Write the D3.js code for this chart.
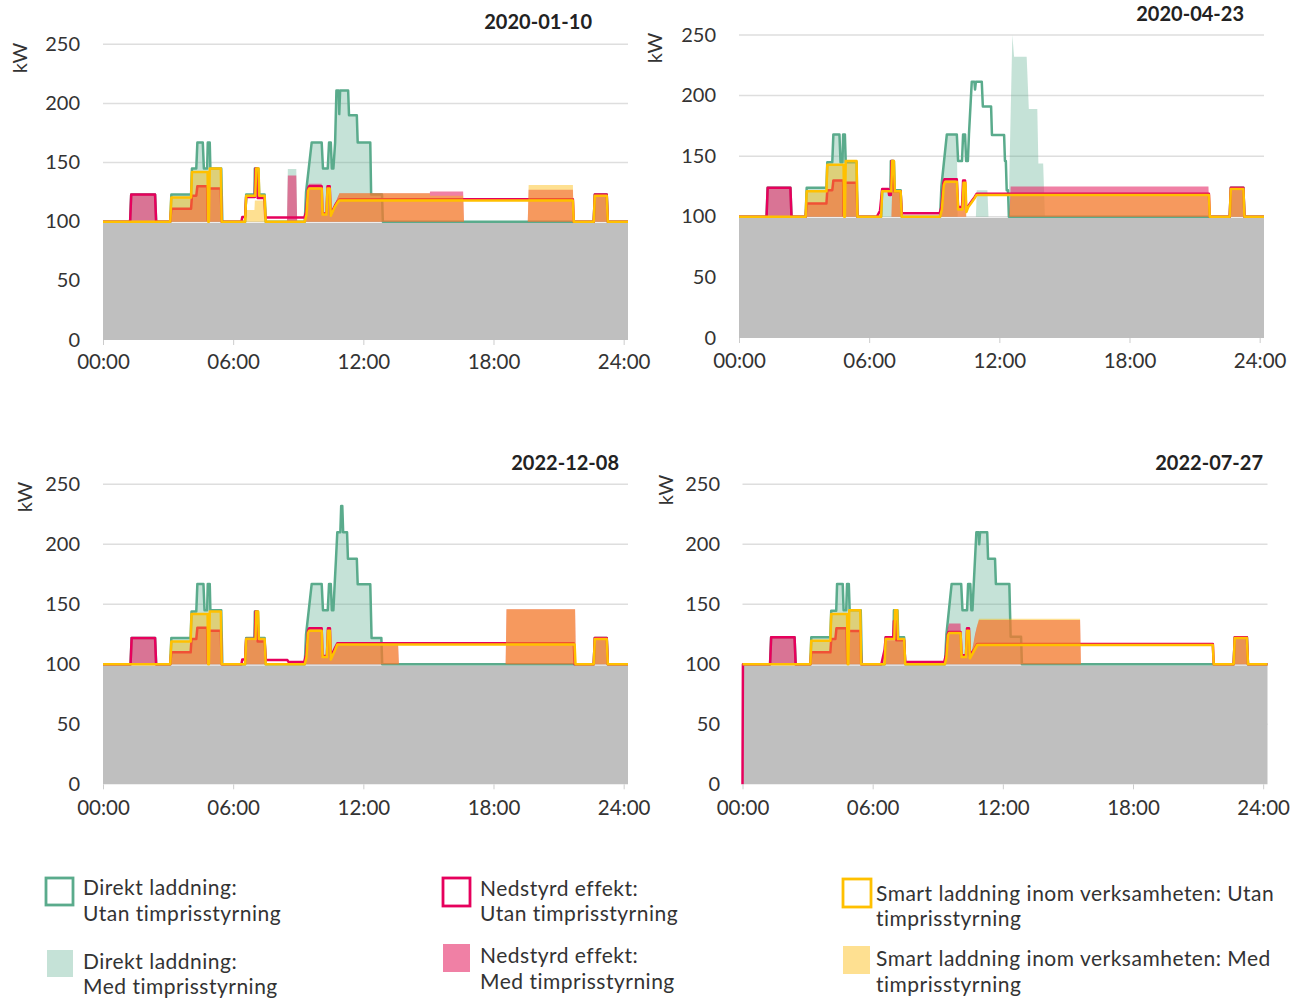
<!DOCTYPE html>
<html><head><meta charset="utf-8">
<script src="https://cdn.jsdelivr.net/npm/d3@7"></script>
<style>
body{margin:0;background:#fff;}
svg{display:block;font-family:Lato,"Noto Sans",sans-serif;}
</style></head><body>
<svg id="chart" width="1314" height="1001"></svg>
<script>
// ---------- data ----------
const titles = ["2020-01-10","2020-04-23","2022-12-08","2022-07-27"];
const yTicks = [0,50,100,150,200,250];
const xTickHours = [0,6,12,18,24];
const xTickLabels = ["00:00","06:00","12:00","18:00","24:00"];
const hourEnd = 24.2;
const baseLoad = 99;
const legendText = [
 ["Direkt laddning:","Utan timprisstyrning"],
 ["Direkt laddning:","Med timprisstyrning"],
 ["Nedstyrd effekt:","Utan timprisstyrning"],
 ["Nedstyrd effekt:","Med timprisstyrning"],
 ["Smart laddning inom verksamheten: Utan","timprisstyrning"],
 ["Smart laddning inom verksamheten: Med","timprisstyrning"]
];

// Panel 1 : 2020-01-10
const p1_dirU = [[0,100],[1.25,100],[1.3,123],[2.4,123],[2.45,100],[3.1,100],[3.15,123],[4.06,123],[4.1,145],[4.3,145],[4.35,167],[4.6,167],[4.65,145],[4.8,145],[4.83,167],[4.92,167],[4.95,145],[5.45,145],[5.5,100],[6.55,100],[6.6,123],[6.98,123],[7.0,145],[7.16,145],[7.2,123],[7.45,123],[7.5,100],[9.3,100],[9.36,125],[9.62,167],[10.08,167],[10.14,145],[10.36,145],[10.42,167],[10.5,167],[10.55,145],[10.62,145],[10.7,167],[10.76,211],[10.86,211],[10.89,191],[10.93,211],[11.3,211],[11.34,190],[11.7,190],[11.74,167],[12.32,167],[12.36,123],[12.86,123],[12.9,100],[22.62,100],[22.67,123],[23.22,123],[23.27,100],[24.2,100]];
const p1_dirM = [[0,100],[1.25,100],[1.3,123],[2.4,123],[2.45,100],[3.1,100],[3.15,123],[4.06,123],[4.1,145],[4.3,145],[4.35,167],[4.6,167],[4.65,145],[4.8,145],[4.83,167],[4.92,167],[4.95,145],[5.45,145],[5.5,100],[8.48,100],[8.52,144.6],[8.91,144.6],[8.95,100],[9.3,100],[9.36,125],[9.62,167],[10.08,167],[10.14,145],[10.36,145],[10.42,167],[10.5,167],[10.55,145],[10.62,145],[10.7,167],[10.76,211],[10.86,211],[10.89,191],[10.93,211],[11.3,211],[11.34,190],[11.7,190],[11.74,167],[12.32,167],[12.36,123],[12.86,123],[12.9,100],[22.62,100],[22.67,123],[23.22,123],[23.27,100],[24.2,100]];
const p1_nedU = [[0,100],[1.25,100],[1.3,123],[2.4,123],[2.45,100],[3.1,100],[3.15,111],[4.06,111],[4.1,122],[4.3,122],[4.35,130],[4.8,130],[4.83,101],[4.86,101],[4.88,128],[5.43,128],[5.47,100],[6.38,100],[6.42,104],[6.55,104],[6.6,121],[7.0,121],[7.03,145],[7.1,145],[7.13,120],[7.44,120],[7.48,103.5],[9.28,103.5],[9.36,108],[9.45,128],[9.5,130],[10.08,130],[10.12,107],[10.3,107],[10.35,130],[10.45,130],[10.5,106],[10.6,110],[10.7,114],[10.8,117],[10.9,119],[21.66,119],[21.7,100],[22.62,100],[22.67,123],[23.22,123],[23.27,100],[24.2,100]];
const p1_nedM = [[0,100],[1.25,100],[1.3,123],[2.4,123],[2.45,100],[3.1,100],[3.15,111],[4.06,111],[4.1,122],[4.3,122],[4.35,130],[4.8,130],[4.83,101],[4.86,101],[4.88,128],[5.43,128],[5.47,100],[8.48,100],[8.52,139],[8.91,139],[8.95,100],[9.3,100],[9.38,108],[9.45,130],[9.5,132],[10.08,132],[10.12,107],[10.3,107],[10.35,130],[10.45,130],[10.5,106],[10.6,110],[10.7,115],[10.8,120],[10.9,124],[15.06,124],[15.08,125.5],[16.6,125.5],[16.64,100],[19.58,100],[19.62,127],[21.66,127],[21.7,100],[22.62,100],[22.67,123],[23.22,123],[23.27,100],[24.2,100]];
const p1_smU = [[0,100],[3.1,100],[3.15,120.5],[4.06,120.5],[4.1,142],[4.82,142],[4.85,100],[4.88,100],[4.92,145],[5.43,145],[5.47,100],[6.55,100],[6.6,122],[7.02,122],[7.06,145],[7.17,145],[7.2,122],[7.45,122],[7.5,100],[9.3,100],[9.38,106],[9.45,126],[9.5,128],[10.08,128],[10.12,106],[10.3,106],[10.35,128],[10.45,128],[10.5,105],[10.6,109],[10.7,113],[10.8,116],[10.9,118],[21.66,118],[21.7,100],[22.62,100],[22.67,122],[23.22,122],[23.27,100],[24.2,100]];
const p1_smM = [[0,100],[3.1,100],[3.15,120.5],[4.06,120.5],[4.1,142],[4.82,142],[4.85,100],[4.88,100],[4.92,145],[5.43,145],[5.47,100],[6.55,100],[6.6,110],[6.98,110],[7.0,118],[7.45,118],[7.5,100],[9.3,100],[9.38,106],[9.45,126],[9.5,128],[10.08,128],[10.12,106],[10.3,106],[10.35,128],[10.45,128],[10.5,105],[10.6,109],[10.7,114],[10.8,119],[10.9,124],[15.06,124],[15.08,122],[16.6,122],[16.64,100],[19.58,100],[19.62,131],[21.66,131],[21.7,100],[22.62,100],[22.67,122],[23.22,122],[23.27,100],[24.2,100]];

// Panel 2 : 2020-04-23
const p2_dirU = [[0,100],[1.27,100],[1.32,124],[2.37,124],[2.42,100],[3.07,100],[3.12,124],[4.03,124],[4.07,145],[4.3,145],[4.35,168],[4.63,168],[4.68,145],[4.77,145],[4.8,168],[4.88,168],[4.92,145],[5.42,145],[5.46,100],[6.55,100],[6.6,122],[6.98,122],[7.0,146],[7.14,146],[7.18,122],[7.45,122],[7.5,100],[9.27,100],[9.33,125],[9.58,168],[10.04,168],[10.1,146],[10.28,146],[10.33,168],[10.42,168],[10.47,146],[10.55,146],[10.6,168],[10.73,211.5],[10.85,211.5],[10.88,205],[10.92,211.5],[11.19,211.5],[11.24,191],[11.62,191],[11.66,167.5],[12.22,167.5],[12.26,146],[12.3,146],[12.34,122],[12.4,122],[12.44,100],[22.62,100],[22.67,124],[23.25,124],[23.3,100],[24.2,100]];
const p2_dirM = [[0,100],[1.27,100],[1.32,124],[2.37,124],[2.42,100],[3.07,100],[3.12,124],[4.03,124],[4.07,145],[4.3,145],[4.35,168],[4.63,168],[4.68,145],[4.77,145],[4.8,168],[4.88,168],[4.92,145],[5.42,145],[5.46,100],[6.55,100],[6.6,121],[7.45,121],[7.5,100],[9.27,100],[9.33,125],[9.58,168],[10.04,168],[10.08,100],[10.92,100],[10.96,122],[11.45,122],[11.5,100],[12.42,100],[12.6,250],[12.68,232],[13.26,232],[13.36,189],[13.75,189],[13.8,144],[14.02,144],[14.1,100],[22.62,100],[22.67,124],[23.25,124],[23.3,100],[24.2,100]];
const p2_nedU = [[0,100],[1.27,100],[1.32,124],[2.37,124],[2.42,100],[3.07,100],[3.12,111],[4.03,111],[4.07,122],[4.3,122],[4.35,130],[4.8,130],[4.82,101],[4.86,101],[4.88,128],[5.42,128],[5.46,100],[6.35,100],[6.5,105],[6.6,123],[6.88,123],[6.92,118],[7.0,118],[7.03,146],[7.1,146],[7.13,121],[7.45,121],[7.5,103],[9.25,103],[9.33,108],[9.42,128],[9.47,131],[10.04,131],[10.1,108],[10.28,108],[10.33,130],[10.42,130],[10.47,106],[10.57,109],[10.73,113],[10.85,116],[10.95,119],[21.66,119],[21.7,100],[22.62,100],[22.67,124],[23.25,124],[23.3,100],[24.2,100]];
const p2_nedM = [[0,100],[1.27,100],[1.32,124],[2.37,124],[2.42,100],[3.07,100],[3.12,111],[4.03,111],[4.07,122],[4.3,122],[4.35,130],[4.8,130],[4.82,101],[4.86,101],[4.88,128],[5.42,128],[5.46,100],[7.03,100],[7.06,121],[7.45,121],[7.5,100],[9.27,100],[9.33,108],[9.42,128],[9.47,131],[10.04,131],[10.1,108],[10.28,108],[10.33,130],[10.42,130],[10.47,100],[12.46,100],[12.52,125],[21.64,125],[21.68,100],[22.62,100],[22.67,123],[23.25,123],[23.3,100],[24.2,100]];
const p2_smU = [[0,100],[3.07,100],[3.12,121],[4.03,121],[4.07,143],[4.82,143],[4.85,100],[4.88,100],[4.92,146],[5.42,146],[5.46,100],[6.55,100],[6.6,121],[7.02,121],[7.06,146],[7.14,146],[7.18,121],[7.45,121],[7.5,100],[9.27,100],[9.35,106],[9.44,126],[9.5,129],[10.04,129],[10.1,106],[10.3,106],[10.35,128],[10.44,128],[10.48,104],[10.57,108],[10.73,112],[10.85,115],[10.95,118],[21.66,118],[21.7,100],[22.62,100],[22.67,123],[23.25,123],[23.3,100],[24.2,100]];
const p2_smM = [[0,100],[3.07,100],[3.12,121],[4.03,121],[4.07,143],[4.82,143],[4.85,100],[4.88,100],[4.92,146],[5.42,146],[5.46,100],[7.03,100],[7.06,121],[7.45,121],[7.5,100],[9.27,100],[9.35,106],[9.44,126],[9.5,129],[10.04,129],[10.1,106],[10.3,106],[10.35,128],[10.44,128],[10.48,100],[12.46,100],[12.52,118],[21.64,118],[21.68,100],[22.62,100],[22.67,122],[23.25,122],[23.3,100],[24.2,100]];

// Panel 3 : 2022-12-08
const p3_dirU = [[0,100],[1.27,100],[1.32,122],[2.4,122],[2.45,100],[3.1,100],[3.15,122],[4.04,122],[4.08,144],[4.3,144],[4.35,167],[4.63,167],[4.68,145],[4.8,145],[4.83,167],[4.92,167],[4.95,145],[5.45,145],[5.5,100],[6.55,100],[6.6,122],[6.98,122],[7.0,144],[7.14,144],[7.18,122],[7.45,122],[7.5,100],[9.3,100],[9.36,125],[9.62,167],[10.08,167],[10.14,145],[10.36,145],[10.42,167],[10.5,167],[10.55,145],[10.62,145],[10.68,167],[10.74,188],[10.8,210],[10.94,210],[10.98,232],[11.03,232],[11.07,210],[11.25,210],[11.29,188],[11.7,188],[11.74,166.7],[12.32,166.7],[12.38,122],[12.83,122],[12.87,100],[22.62,100],[22.67,122],[23.22,122],[23.27,100],[24.2,100]];
const p3_dirM = [[0,100],[1.27,100],[1.32,122],[2.4,122],[2.45,100],[3.1,100],[3.15,122],[4.04,122],[4.08,144],[4.3,144],[4.35,167],[4.63,167],[4.68,145],[4.8,145],[4.83,167],[4.92,167],[4.95,145],[5.45,145],[5.5,100],[6.55,100],[6.6,120],[7.45,120],[7.5,100],[9.3,100],[9.36,125],[9.62,167],[10.08,167],[10.14,145],[10.36,145],[10.42,167],[10.5,167],[10.55,145],[10.62,145],[10.68,167],[10.74,188],[10.8,210],[10.94,210],[10.98,232],[11.03,232],[11.07,210],[11.25,210],[11.29,188],[11.7,188],[11.74,166.7],[12.32,166.7],[12.38,122],[12.83,122],[12.87,100],[22.62,100],[22.67,122],[23.22,122],[23.27,100],[24.2,100]];
const p3_nedU = [[0,100],[1.27,100],[1.32,122],[2.4,122],[2.45,100],[3.1,100],[3.15,110],[4.04,110],[4.08,121],[4.3,121],[4.35,130.5],[4.8,130.5],[4.83,101],[4.86,101],[4.88,128],[5.43,128],[5.47,100],[6.38,100],[6.42,104],[6.55,104],[6.6,121],[7.0,121],[7.03,144],[7.1,144],[7.13,119],[7.45,119],[7.5,103.5],[8.5,103.5],[8.55,102],[9.28,102],[9.36,108],[9.45,128],[9.5,130],[10.08,130],[10.12,107],[10.32,107],[10.37,130],[10.46,130],[10.5,106],[10.6,110],[10.7,114],[10.8,117.5],[21.7,117.5],[21.74,100],[22.62,100],[22.67,122],[23.22,122],[23.27,100],[24.2,100]];
const p3_nedM = [[0,100],[1.27,100],[1.32,122],[2.4,122],[2.45,100],[3.1,100],[3.15,110],[4.04,110],[4.08,121],[4.3,121],[4.35,130.5],[4.8,130.5],[4.83,101],[4.86,101],[4.88,128],[5.43,128],[5.47,100],[6.55,100],[6.6,120],[7.45,120],[7.5,100],[9.28,100],[9.36,108],[9.45,128],[9.5,130],[10.08,130],[10.12,107],[10.32,107],[10.37,130],[10.46,130],[10.5,106],[10.6,110],[10.7,114],[10.8,117.5],[13.6,117.5],[13.64,100],[18.56,100],[18.6,145.8],[21.76,145.8],[21.8,100],[22.62,100],[22.67,121],[23.22,121],[23.27,100],[24.2,100]];
const p3_smU = [[0,100],[3.1,100],[3.15,119],[4.04,119],[4.08,142],[4.82,142],[4.85,100],[4.88,100],[4.92,144],[5.43,144],[5.47,100],[6.55,100],[6.6,121],[7.03,121],[7.06,144],[7.15,144],[7.18,121],[7.45,121],[7.5,100],[9.3,100],[9.38,106],[9.45,126],[9.5,128],[10.08,128],[10.12,106],[10.32,106],[10.37,128],[10.46,128],[10.5,104],[10.6,108],[10.7,112],[10.8,116.5],[21.74,116.5],[21.78,100],[22.62,100],[22.67,121],[23.22,121],[23.27,100],[24.2,100]];
const p3_smM = [[0,100],[3.1,100],[3.15,119],[4.04,119],[4.08,142],[4.82,142],[4.85,100],[4.88,100],[4.92,144],[5.43,144],[5.47,100],[6.55,100],[6.6,120],[7.45,120],[7.5,100],[9.3,100],[9.38,106],[9.45,126],[9.5,128],[10.08,128],[10.12,106],[10.32,106],[10.37,128],[10.46,128],[10.5,104],[10.6,108],[10.7,112],[10.8,117],[13.6,117],[13.64,100],[18.56,100],[18.6,145.8],[21.76,145.8],[21.8,100],[22.62,100],[22.67,121],[23.22,121],[23.27,100],[24.2,100]];

// Panel 4 : 2022-07-27
const p4_dirU = [[0,100],[1.27,100],[1.32,122.5],[2.4,122.5],[2.45,100],[3.13,100],[3.17,122.5],[4.05,122.5],[4.09,144.7],[4.32,144.7],[4.36,167],[4.62,167],[4.66,145],[4.78,145],[4.82,167],[4.9,167],[4.94,145],[5.45,145],[5.5,100],[6.55,100],[6.6,122.5],[6.96,122.5],[6.98,145],[7.14,145],[7.18,122.5],[7.45,122.5],[7.5,100],[9.33,100],[9.4,125],[9.64,167],[10.08,167],[10.14,145],[10.35,145],[10.4,167],[10.5,167],[10.55,145],[10.6,145],[10.66,167],[10.78,210],[10.88,210],[10.91,200],[10.95,210],[11.28,210],[11.32,188],[11.64,188],[11.68,167],[12.3,167],[12.36,123],[12.84,123],[12.88,100],[22.64,100],[22.69,122.5],[23.25,122.5],[23.3,100],[24.2,100]];
const p4_dirM = [[0,100],[1.27,100],[1.32,122.5],[2.4,122.5],[2.45,100],[3.13,100],[3.17,122.5],[4.05,122.5],[4.09,144.7],[4.32,144.7],[4.36,167],[4.62,167],[4.66,145],[4.78,145],[4.82,167],[4.9,167],[4.94,145],[5.45,145],[5.5,100],[6.55,100],[6.6,120],[7.45,120],[7.5,100],[9.33,100],[9.4,125],[9.64,167],[10.08,167],[10.14,145],[10.35,145],[10.4,167],[10.5,167],[10.55,145],[10.6,145],[10.66,167],[10.78,210],[10.88,210],[10.91,200],[10.95,210],[11.28,210],[11.32,188],[11.64,188],[11.68,167],[12.3,167],[12.36,123],[12.84,123],[12.88,100],[22.64,100],[22.69,122.5],[23.25,122.5],[23.3,100],[24.2,100]];
const p4_nedU = [[0,0],[0.02,100],[1.27,100],[1.32,122.5],[2.4,122.5],[2.45,100],[3.13,100],[3.17,110],[4.05,110],[4.09,121],[4.28,121],[4.33,130],[4.8,130],[4.83,101],[4.86,101],[4.88,127.7],[5.43,127.7],[5.47,100],[6.4,100],[6.55,112],[6.6,122.5],[6.95,122.5],[6.98,136],[7.06,136],[7.09,120],[7.45,120],[7.5,102],[9.3,102],[9.38,108],[9.46,125],[9.5,127],[10.05,127],[10.1,107.6],[10.3,107.6],[10.35,130],[10.44,130],[10.48,107],[10.58,110],[10.7,113],[10.82,117],[21.68,117],[21.72,100],[22.64,100],[22.69,122.5],[23.25,122.5],[23.3,100],[24.2,100]];
const p4_nedM = [[0,100],[1.27,100],[1.32,122.5],[2.4,122.5],[2.45,100],[3.13,100],[3.17,110],[4.05,110],[4.09,121],[4.28,121],[4.33,130],[4.8,130],[4.83,101],[4.86,101],[4.88,127.7],[5.43,127.7],[5.47,100],[6.55,100],[6.6,120],[7.45,120],[7.5,100],[9.3,100],[9.38,108],[9.46,130],[9.52,134],[10.05,134],[10.1,107.6],[10.3,107.6],[10.35,130],[10.44,130],[10.48,107],[10.56,110],[10.64,117],[10.72,125],[10.8,131],[10.9,137],[15.56,137],[15.6,100],[22.64,100],[22.69,122],[23.25,122],[23.3,100],[24.2,100]];
const p4_smU = [[0,100],[3.13,100],[3.17,119.7],[4.05,119.7],[4.09,142],[4.82,142],[4.85,100],[4.88,100],[4.92,145],[5.43,145],[5.47,100],[6.55,100],[6.6,121],[7.0,121],[7.03,145],[7.13,145],[7.16,121],[7.45,121],[7.5,100],[9.33,100],[9.4,106],[9.47,124],[9.52,126],[10.05,126],[10.1,106],[10.3,106],[10.35,128],[10.44,128],[10.48,105],[10.58,108],[10.7,112],[10.82,116],[21.68,116],[21.72,100],[22.64,100],[22.69,122],[23.25,122],[23.3,100],[24.2,100]];
const p4_smM = [[0,100],[3.13,100],[3.17,119.7],[4.05,119.7],[4.09,142],[4.82,142],[4.85,100],[4.88,100],[4.92,145],[5.43,145],[5.47,100],[6.55,100],[6.6,120],[7.45,120],[7.5,100],[9.33,100],[9.4,106],[9.47,124],[9.52,126],[10.05,126],[10.1,106],[10.3,106],[10.35,128],[10.44,128],[10.48,105],[10.56,109],[10.64,116],[10.72,124],[10.8,131],[10.9,138],[15.56,138],[15.6,100],[22.64,100],[22.69,122],[23.25,122],[23.3,100],[24.2,100]];

// ---------- styles / layout ----------
const COL = {
  green:"#5aab8c", red:"#e6005c", yellow:"#ffc000",
  gFill:"#5aab8c", gOp:0.35, pFill:"#e62b69", pOp:0.6, yFill:"#fcb805", yOp:0.44,
  gray:"#bfbfbf", grid:"#dedede", text:"#333333"
};
const panels = [
  {title:titles[0], s:[p1_dirM,p1_dirU,p1_nedM,p1_nedU,p1_smM,p1_smU], x0:103, x1:628, yTop:44.3, yBot:340, labRight:80, xLabY:362, kw:[20,58], tRight:592, tY:22},
  {title:titles[1], s:[p2_dirM,p2_dirU,p2_nedM,p2_nedU,p2_smM,p2_smU], x0:739, x1:1264, yTop:35, yBot:338, labRight:716, xLabY:361, kw:[655,48], tRight:1244, tY:14},
  {title:titles[2], s:[p3_dirM,p3_dirU,p3_nedM,p3_nedU,p3_smM,p3_smU], x0:103, x1:628, yTop:484.3, yBot:784.3, labRight:80, xLabY:808, kw:[25,497], tRight:619, tY:463},
  {title:titles[3], s:[p4_dirM,p4_dirU,p4_nedM,p4_nedU,p4_smM,p4_smU], x0:742.5, x1:1267.5, yTop:484.3, yBot:784.3, labRight:720, xLabY:808, kw:[666,490], tRight:1263, tY:463}
];

const svg = d3.select("#chart");

panels.forEach(p => {
  const x = d3.scaleLinear().domain([0, hourEnd]).range([p.x0, p.x1]);
  const y = d3.scaleLinear().domain([0, 250]).range([p.yBot, p.yTop]);
  const g = svg.append("g");

  g.selectAll("line.grid").data(yTicks.filter(t => t > 0)).join("line")
    .attr("class","grid")
    .attr("x1", p.x0).attr("x2", p.x1)
    .attr("y1", d => y(d)).attr("y2", d => y(d))
    .attr("stroke", COL.grid).attr("stroke-width", 1.5);

  const baseArea = d3.area().x(d => x(d[0])).y0(y(0)).y1(d => y(d[1]));
  g.append("path").datum([[0, baseLoad], [hourEnd, baseLoad]])
    .attr("d", baseArea).attr("fill", COL.gray);

  const area = d3.area().x(d => x(d[0])).y0(y(100)).y1(d => y(d[1]));
  const line = d3.line().x(d => x(d[0])).y(d => y(d[1]));

  const [dirM, dirU, nedM, nedU, smM, smU] = p.s;
  g.append("path").datum(dirM).attr("d", area).attr("fill", COL.gFill).attr("fill-opacity", COL.gOp);
  g.append("path").datum(dirU).attr("d", line).attr("fill","none").attr("stroke", COL.green).attr("stroke-width", 2.5).attr("stroke-linejoin","round");
  g.append("path").datum(nedM).attr("d", area).attr("fill", COL.pFill).attr("fill-opacity", COL.pOp);
  g.append("path").datum(nedU).attr("d", line).attr("fill","none").attr("stroke", COL.red).attr("stroke-width", 2.5).attr("stroke-linejoin","round");
  g.append("path").datum(smM).attr("d", area).attr("fill", COL.yFill).attr("fill-opacity", COL.yOp);
  g.append("path").datum(smU).attr("d", line).attr("fill","none").attr("stroke", COL.yellow).attr("stroke-width", 2.5).attr("stroke-linejoin","round");

  const ya = g.append("g").attr("transform", `translate(${p.x0},0)`)
    .call(d3.axisLeft(y).tickValues(yTicks).tickSize(0).tickPadding(p.x0 - p.labRight));
  ya.select(".domain").remove();
  ya.selectAll("text").attr("font-size", 20).attr("fill", COL.text)
    .attr("font-family","Lato").attr("dy","0.3em");

  const xa = g.append("g").attr("transform", `translate(0,${p.yBot})`)
    .call(d3.axisBottom(x).tickValues(xTickHours).tickFormat((d,i) => xTickLabels[i]).tickSize(5));
  xa.select(".domain").remove();
  xa.selectAll("line").attr("stroke", "#cccccc");
  xa.selectAll("text").attr("font-size", 20.5).attr("fill", COL.text)
    .attr("font-family","Lato").attr("y", p.xLabY - p.yBot).attr("dy","0.35em");

  g.append("text").attr("transform", `translate(${p.kw[0]},${p.kw[1]}) rotate(-90)`)
    .attr("text-anchor","middle").attr("dy","0.35em")
    .attr("font-size", 20).attr("fill", COL.text).text("kW");

  g.append("text").attr("x", p.tRight).attr("y", p.tY).attr("dy","0.35em")
    .attr("text-anchor","end").attr("font-size", 20).attr("font-weight", 700)
    .attr("fill", "#222").text(p.title);
});

// ---------- legend ----------
const legendItems = [
  {box:[46,878,27,27], kind:"line", color:COL.green, tx:83, ty:[888,914], text:legendText[0]},
  {box:[47,950,26,27], kind:"fill", color:COL.gFill, op:COL.gOp, tx:83, ty:[962,987], text:legendText[1]},
  {box:[443,878,27,28], kind:"line", color:COL.red, tx:480, ty:[889,914], text:legendText[2]},
  {box:[443,944,27,28], kind:"fill", color:COL.pFill, op:COL.pOp, tx:480, ty:[956,982], text:legendText[3]},
  {box:[843,879,28,28], kind:"line", color:COL.yellow, tx:876, ty:[894,919], text:legendText[4]},
  {box:[843,946,27,28], kind:"fill", color:COL.yFill, op:COL.yOp, tx:876, ty:[959,985], text:legendText[5]}
];
const lg = svg.append("g");
legendItems.forEach(it => {
  const r = lg.append("rect").attr("x", it.box[0]).attr("y", it.box[1])
    .attr("width", it.box[2]).attr("height", it.box[3]);
  if (it.kind === "line") {
    r.attr("fill","none").attr("stroke", it.color).attr("stroke-width", 2.8);
  } else {
    r.attr("fill", it.color).attr("fill-opacity", it.op);
  }
  it.text.forEach((t, i) => {
    lg.append("text").attr("x", it.tx).attr("y", it.ty[i]).attr("dy","0.35em")
      .attr("font-size", 21).attr("letter-spacing", 0.5)
      .attr("fill", COL.text).attr("font-weight", 400).text(t);
  });
});
</script>
</body></html>
